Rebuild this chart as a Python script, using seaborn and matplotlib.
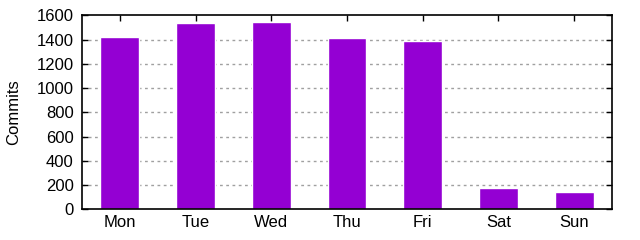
import matplotlib
matplotlib.use("Agg")
import matplotlib.pyplot as plt
import seaborn as sns
import pandas as pd

days = ["Mon", "Tue", "Wed", "Thu", "Fri", "Sat", "Sun"]
commits = [1420, 1535, 1545, 1413, 1388, 176, 143]
yticks = [0, 200, 400, 600, 800, 1000, 1200, 1400, 1600]

sns.set_theme(style="white")
plt.rcParams['font.family'] = ['Liberation Sans', 'DejaVu Sans']

df = pd.DataFrame({"day": days, "commits": commits})

fig = plt.figure(figsize=(6.4, 2.4), dpi=100)
ax = fig.add_axes([82/640, 1 - 209.3/240, 530/640, 194/240])

for y in yticks[1:-1]:
    ax.axhline(y, color="#a0a0a0", lw=1, ls=(0, (2, 2.5)), zorder=0)

sns.barplot(data=df, x="day", y="commits", color="#9400D3", saturation=1,
            width=0.515, ax=ax, zorder=2)
ax.set_xlim(-0.5, 6.5)
ax.set_ylim(0, 1600)
ax.set_yticks(yticks)
ax.set_xlabel("")
ax.set_ylabel("Commits", fontsize=12, color="black")
ax.yaxis.set_label_coords(-61/530, 0.5)
ax.tick_params(axis="both", direction="in", length=4, width=1, colors="black",
               labelsize=12, top=True, right=True, left=True, bottom=True, pad=6)
ax.tick_params(axis="x", bottom=False, pad=4)
for s in ax.spines.values():
    s.set_color("black")
    s.set_linewidth(1.2)
    s.set_visible(True)

fig.savefig("out.png", dpi=100)
